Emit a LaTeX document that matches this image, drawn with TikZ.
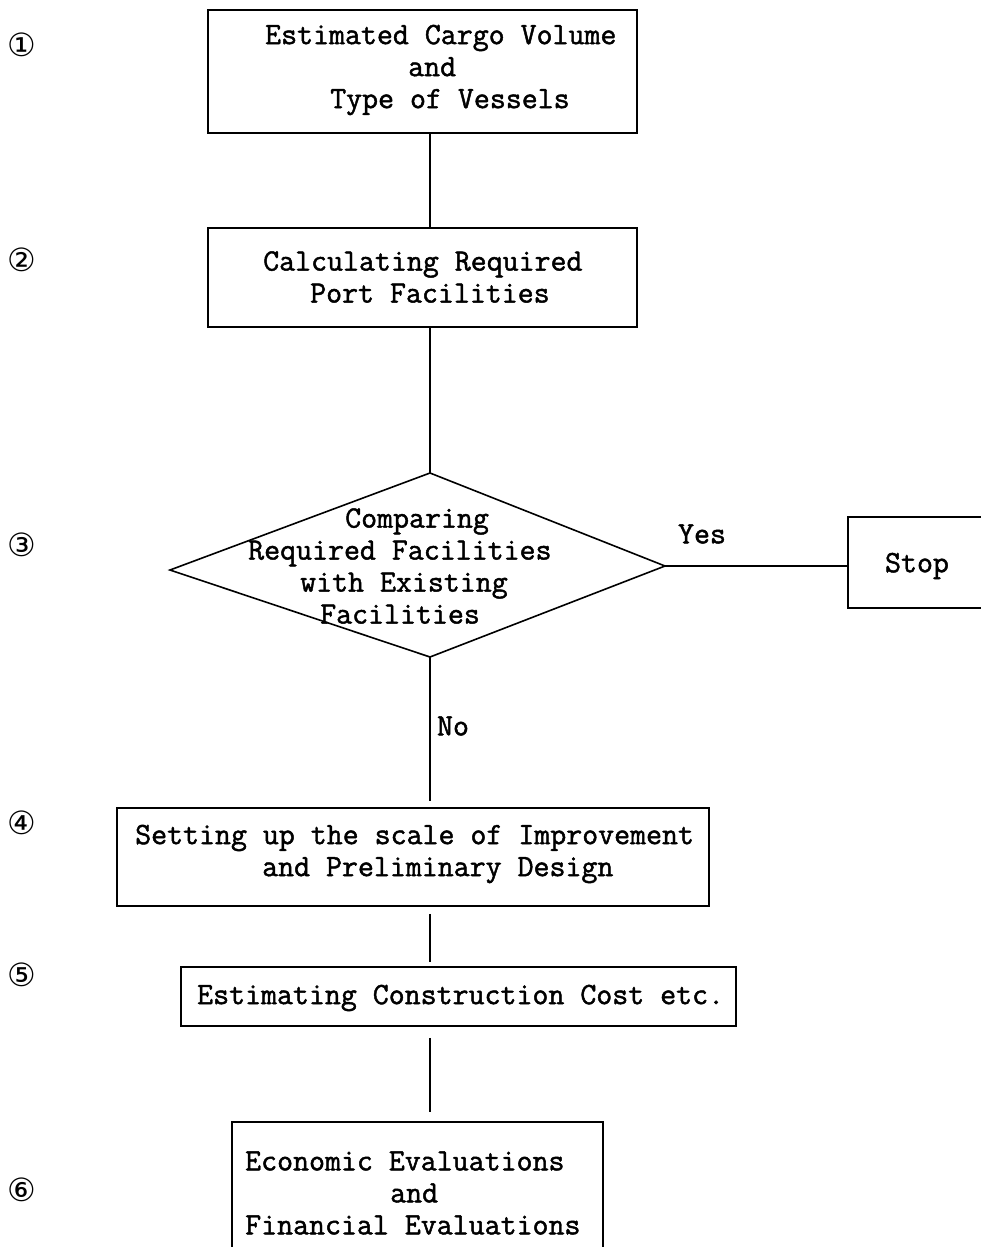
\documentclass[tikz,border=0pt]{standalone}
\usepackage{fontspec}
\newfontfamily\circf{DejaVu Sans}
\newfontfamily\monof[FakeBold=1.5]{Latin Modern Mono}
\begin{document}
\begin{tikzpicture}[x=1pt,y=-1pt,
  box/.style={draw, line width=1.6pt, inner sep=0pt},
  txt/.style={font=\monof\fontsize{31}{32}\selectfont, align=left, inner sep=0pt, anchor=west},
  ctxt/.style={font=\monof\fontsize{31}{32}\selectfont, inner sep=0pt},
  num/.style={font=\circf\fontsize{32}{32}\selectfont, inner sep=0pt},
  conn/.style={line width=1.4pt}]
\useasboundingbox (0,0) rectangle (981,1247);
% boxes
\node[box, minimum width=429, minimum height=123] (b1) at (422.5,71.5) {};
\node[box, minimum width=429, minimum height=99] (b2) at (422.5,277.5) {};
\node[box, minimum width=592, minimum height=98] (b4) at (413,857) {};
\node[box, minimum width=555, minimum height=59] (b5) at (458.5,996.5) {};
\node[box, minimum width=371, minimum height=148] (b6) at (417.5,1196) {};
\node[box, minimum width=162, minimum height=91] (stop) at (929,562.5) {};
% diamond
\coordinate (dT) at (430,473);
\coordinate (dR) at (665,566);
\coordinate (dB) at (430,657);
\coordinate (dL) at (170,570);
\draw[line width=1.6pt, line join=miter] (dT) -- (dR) -- (dB) -- (dL) -- cycle;
% texts
\node[txt] (t1) at (265,70) {Estimated Cargo Volume\\\hspace*{143pt}and\\\hspace*{65pt}Type of Vessels};
\node[txt] (t2) at (263,277) {Calculating Required\\\hspace*{47pt}Port Facilities};
\node[txt] (t3) at (248,566) {\hspace*{97pt}Comparing\\Required Facilities\\\hspace*{52pt}with Existing\\\hspace*{72pt}Facilities};
\node[txt] (t4) at (135,854) {Setting up the scale of Improvement\\\hspace*{127pt}and Preliminary Design};
\node[txt] (t5) at (197,998) {Estimating Construction Cost etc.};
\node[txt] (t6) at (245,1193) {Economic Evaluations\\\hspace*{145pt}and\\Financial Evaluations};
\node[ctxt] (tstop) at (917,566) {Stop};
\node[ctxt] (yes) at (702,534) {Yes};
\node[ctxt] (no) at (453,726) {No};
% connectors
\draw[conn] (b1.south -| dT) -- (b2.north -| dT);
\draw[conn] (b2.south -| dT) -- (dT);
\draw[conn] (dR) -- (stop.west |- dR);
\draw[conn, shorten >=6pt] (dB) -- (b4.north -| dB);
\draw[conn, shorten <=7pt, shorten >=4pt] (b4.south -| dB) -- (b5.north -| dB);
\draw[conn, shorten <=11pt, shorten >=9pt] (b5.south -| dB) -- (b6.north -| dB);
% step numbers
\node[num] (n1) at (22,45) {①};
\node[num] (n2) at (22,260) {②};
\node[num] (n3) at (22,545) {③};
\node[num] (n4) at (22,823) {④};
\node[num] (n5) at (22,975) {⑤};
\node[num] (n6) at (22,1190) {⑥};
\end{tikzpicture}
\end{document}
